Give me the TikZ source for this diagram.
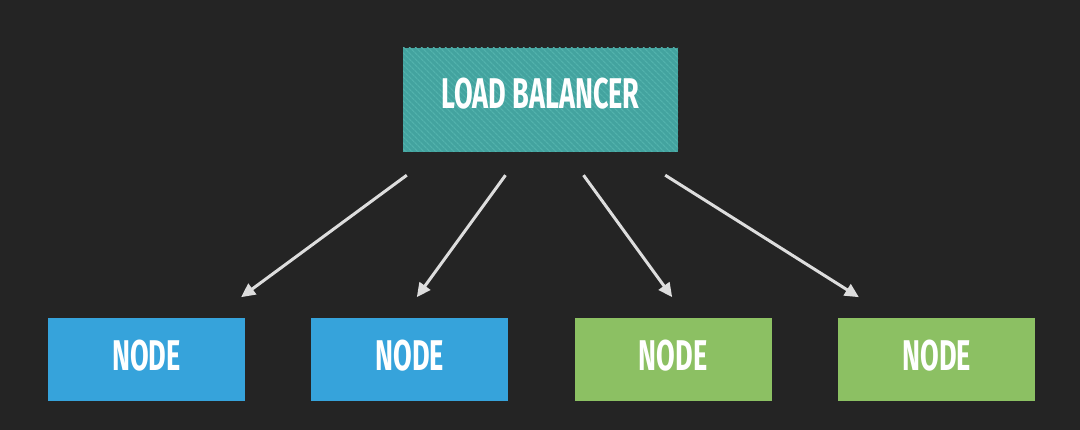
\documentclass[tikz,border=0pt]{standalone}
\usepackage{fontspec}
\setmainfont{Fira Sans}
\newfontfamily\boxfont{Fira Sans}[FakeStretch=0.63]
\usepackage{tikz}
\usetikzlibrary{positioning,arrows.meta,patterns.meta}
\definecolor{bgdark}{HTML}{242424}
\definecolor{lbteal}{HTML}{43A39F}
\definecolor{lbstripe}{HTML}{52B2AC}
\definecolor{nodeblue}{HTML}{36A3DB}
\definecolor{nodegreen}{HTML}{8CC063}
\definecolor{arrowgray}{HTML}{DDDDDD}

\begin{document}
\begin{tikzpicture}[x=1pt, y=-1pt, node distance=66pt,
  box/.style={inner sep=0pt, text=white, text depth=9pt, font=\boxfont\bfseries\fontsize{43}{43}\selectfont},
  lbbox/.style={box, fill=lbteal, minimum width=275pt, minimum height=104pt, text depth=13pt,
    postaction={pattern={Lines[angle=-45, distance=4pt, line width=1.3pt]}, pattern color=lbstripe}},
  srv/.style={box, minimum width=197pt, minimum height=83pt},
  arr/.style={-{Triangle[length=14pt, width=13pt]}, line width=3pt, draw=arrowgray, fill=arrowgray}]
\fill[bgdark] (0,0) rectangle (1080,430);
\useasboundingbox (0,0) rectangle (1080,430);
\node[lbbox] (lb) at (540.5,100) {LOAD BALANCER};
\node[srv, fill=nodeblue, below left=166pt and 32pt of lb.south] (n2) {NODE};
\node[srv, fill=nodeblue, left=of n2] (n1) {NODE};
\node[srv, fill=nodegreen, below right=166pt and 34pt of lb.south] (n3) {NODE};
\node[srv, fill=nodegreen, right=of n3] (n4) {NODE};
\draw[arr] ([xshift=4pt, yshift=-23pt]lb.south west) -- ([xshift=-4pt, yshift=21pt]n1.north east);
\draw[arr] ([xshift=-35pt, yshift=-23pt]lb.south) -- ([xshift=7pt, yshift=21pt]n2.north);
\draw[arr] ([xshift=43pt, yshift=-23pt]lb.south) -- ([xshift=-1pt, yshift=21pt]n3.north);
\draw[arr] ([xshift=-13pt, yshift=-23pt]lb.south east) -- ([xshift=21pt, yshift=21pt]n4.north west);
\end{tikzpicture}
\end{document}
